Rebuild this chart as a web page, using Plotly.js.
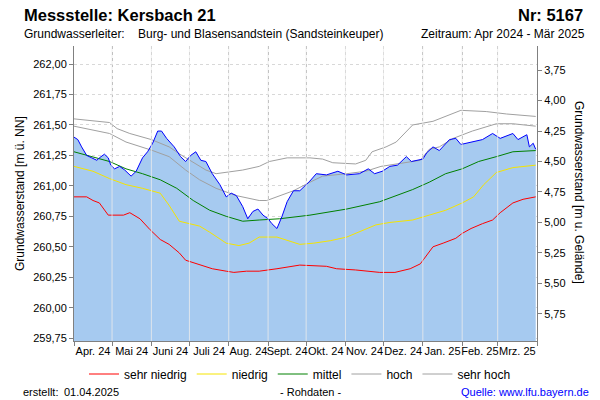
<!DOCTYPE html>
<html>
<head>
<meta charset="utf-8">
<script src="https://cdn.plot.ly/plotly-3.0.1.min.js"></script>
<style>html,body{margin:0;padding:0;background:#fff;}#chart{width:600px;height:400px;}</style>
</head>
<body>
<div id="chart"></div>
<script>
// ---------- DATA ----------
const GELAENDE = 265.70; // ground level [m ü. NN] for the right axis

const monthStarts = ['2024-04-01','2024-05-01','2024-06-01','2024-07-01','2024-08-01','2024-09-01','2024-10-01','2024-11-01','2024-12-01','2025-01-01','2025-02-01','2025-03-01','2025-04-01'];
const monthLabels = ['Apr. 24','Mai 24','Juni 24','Juli 24','Aug. 24','Sept. 24','Okt. 24','Nov. 24','Dez. 24','Jan. 25','Feb. 25','Mrz. 25'];

const measDates = ['2024-04-01','2024-04-04','2024-04-07','2024-04-11','2024-04-15','2024-04-19','2024-04-21','2024-04-25','2024-04-28','2024-04-30',
 '2024-05-03','2024-05-07','2024-05-11','2024-05-16','2024-05-20','2024-05-25','2024-05-29','2024-06-02','2024-06-06','2024-06-09',
 '2024-06-13','2024-06-19','2024-06-24','2024-06-28','2024-07-02','2024-07-06','2024-07-10','2024-07-14','2024-07-19','2024-07-25',
 '2024-07-30','2024-08-03','2024-08-07','2024-08-12','2024-08-16','2024-08-20','2024-08-24','2024-08-28','2024-09-01','2024-09-04',
 '2024-09-08','2024-09-12','2024-09-16','2024-09-21','2024-09-26','2024-09-30','2024-10-04','2024-10-09','2024-10-17','2024-10-26',
 '2024-11-02','2024-11-12','2024-11-19','2024-11-24','2024-11-30','2024-12-06','2024-12-12','2024-12-19','2024-12-23','2025-01-01',
 '2025-01-04','2025-01-09','2025-01-14','2025-01-22','2025-01-27','2025-01-31','2025-02-08','2025-02-17','2025-02-25','2025-03-03',
 '2025-03-13','2025-03-17','2025-03-24','2025-03-26','2025-03-29','2025-03-31'];
const measLevel = [261.40,261.38,261.32,261.25,261.23,261.21,261.23,261.26,261.23,261.17,
 261.14,261.16,261.13,261.08,261.12,261.23,261.28,261.35,261.45,261.45,
 261.39,261.32,261.24,261.20,261.25,261.28,261.21,261.20,261.10,261.01,
 260.91,260.94,260.92,260.83,260.73,260.79,260.81,260.76,260.73,260.69,
 260.65,260.75,260.87,260.96,260.96,261.00,261.04,261.10,261.09,261.12,
 261.09,261.10,261.14,261.10,261.12,261.16,261.17,261.24,261.20,261.22,
 261.27,261.32,261.29,261.38,261.39,261.34,261.36,261.38,261.43,261.39,
 261.43,261.38,261.42,261.32,261.35,261.30];

const sehrHochDates = ['2024-04-01','2024-04-29','2024-05-05','2024-05-15','2024-06-01','2024-06-15','2024-06-25','2024-07-06','2024-07-14','2024-07-22',
 '2024-07-30','2024-08-12','2024-08-25','2024-09-02','2024-09-16','2024-10-04','2024-10-14','2024-10-22','2024-11-09','2024-11-17',
 '2024-11-22','2024-12-03','2024-12-11','2024-12-19','2024-12-24','2025-01-09','2025-01-22','2025-01-31','2025-02-20','2025-03-08','2025-03-31'];
const sehrHochVals = [261.55,261.52,261.47,261.43,261.38,261.32,261.25,261.18,261.13,261.10,
 261.11,261.13,261.16,261.20,261.23,261.23,261.22,261.19,261.18,261.21,
 261.28,261.32,261.36,261.45,261.50,261.53,261.58,261.62,261.61,261.59,261.57];

const hochDates = ['2024-04-01','2024-04-29','2024-05-12','2024-06-02','2024-06-15','2024-06-28','2024-07-09','2024-07-22','2024-08-07','2024-08-25',
 '2024-08-31','2024-09-08','2024-09-21','2024-10-04','2024-10-14','2024-11-02','2024-11-17','2024-11-29','2024-12-19','2024-12-30',
 '2025-01-06','2025-01-14','2025-01-25','2025-02-09','2025-02-28','2025-03-13','2025-03-31'];
const hochVals = [261.49,261.43,261.36,261.29,261.24,261.13,261.05,260.98,260.92,260.88,
 260.88,260.91,260.96,261.03,261.08,261.10,261.12,261.16,261.19,261.21,
 261.30,261.32,261.39,261.45,261.51,261.51,261.49];

const mittelDates = ['2024-04-01','2024-04-16','2024-04-29','2024-05-12','2024-05-25','2024-06-08','2024-06-21','2024-07-04','2024-07-17','2024-07-30',
 '2024-08-12','2024-08-25','2024-09-10','2024-10-04','2024-11-02','2024-11-28','2024-12-24','2025-01-06','2025-01-19','2025-02-01',
 '2025-02-14','2025-02-28','2025-03-13','2025-03-31'];
const mittelVals = [261.28,261.24,261.20,261.14,261.10,261.05,260.98,260.88,260.80,260.75,
 260.71,260.72,260.73,260.76,260.81,260.87,260.97,261.03,261.10,261.14,
 261.20,261.24,261.28,261.29];

const niedrigDates = ['2024-04-01','2024-04-16','2024-04-29','2024-05-12','2024-05-25','2024-06-08','2024-06-15','2024-06-23','2024-07-09','2024-07-17',
 '2024-07-30','2024-08-09','2024-08-17','2024-08-25','2024-09-08','2024-09-21','2024-09-26','2024-10-07','2024-10-20','2024-11-02',
 '2024-11-15','2024-11-25','2024-12-06','2024-12-24','2025-01-06','2025-01-19','2025-02-01','2025-02-10','2025-02-18','2025-02-28','2025-03-13','2025-03-31'];
const niedrigVals = [261.16,261.12,261.06,261.01,260.98,260.94,260.84,260.71,260.67,260.62,
 260.53,260.51,260.53,260.58,260.58,260.54,260.52,260.53,260.55,260.58,
 260.64,260.68,260.70,260.72,260.76,260.80,260.86,260.91,261.01,261.11,261.15,261.17];

const sehrNiedrigDates = ['2024-04-01','2024-04-11','2024-04-16','2024-04-21','2024-04-28','2024-05-10','2024-05-15','2024-05-23','2024-05-31','2024-06-08',
 '2024-06-15','2024-06-23','2024-06-28','2024-07-09','2024-07-19','2024-07-30','2024-08-05','2024-08-15','2024-08-25','2024-09-08',
 '2024-09-21','2024-09-26','2024-10-17','2024-10-25','2024-11-09','2024-11-28','2024-12-10','2024-12-22','2024-12-30','2025-01-03',
 '2025-01-09','2025-01-17','2025-01-27','2025-02-01','2025-02-08','2025-02-17','2025-02-25','2025-03-03','2025-03-13','2025-03-21','2025-03-31'];
const sehrNiedrigVals = [260.91,260.91,260.88,260.86,260.76,260.76,260.78,260.73,260.64,260.56,
 260.52,260.45,260.39,260.35,260.32,260.30,260.29,260.30,260.30,260.32,
 260.34,260.35,260.34,260.32,260.31,260.29,260.29,260.32,260.36,260.42,
 260.50,260.53,260.57,260.61,260.65,260.69,260.72,260.78,260.86,260.89,260.91];

const legendNames = ['sehr niedrig','niedrig','mittel','hoch','sehr hoch'];

// ---------- LAYOUT GEOMETRY ----------
const W = 600, H = 400;
const M = {l: 74, r: 63, t: 46, b: 59};
const PW = W - M.l - M.r, PH = H - M.t - M.b;
const yRange = [259.727, 262.148];
const px = x => (x - M.l) / PW;
const py = y => (H - M.b - y) / PH;

const monthMids = monthStarts.slice(0, -1).map((d, i) => {
  const t = (Date.parse(monthStarts[i]) + Date.parse(monthStarts[i + 1])) / 2;
  return new Date(t).toISOString().slice(0, 19).replace('T', ' ');
});

const FONT = '"Liberation Sans", Arial, sans-serif';

function lineTrace(name, x, y, color) {
  return {x: x, y: y, name: name, type: 'scatter', mode: 'lines',
          line: {color: color, width: 1}, hoverinfo: 'skip'};
}

const traces = [
  {x: measDates, y: measLevel, type: 'scatter', mode: 'lines', fill: 'tozeroy',
   fillcolor: '#a6caf0', line: {color: 'rgba(0,0,0,0)', width: 0}, showlegend: false, hoverinfo: 'skip'},
  lineTrace(legendNames[4], sehrHochDates, sehrHochVals, '#a0a0a0'),
  lineTrace(legendNames[3], hochDates, hochVals, '#a0a0a0'),
  lineTrace(legendNames[2], mittelDates, mittelVals, '#008000'),
  lineTrace(legendNames[1], niedrigDates, niedrigVals, '#f5e400'),
  lineTrace(legendNames[0], sehrNiedrigDates, sehrNiedrigVals, '#ff0000'),
  {x: measDates, y: measLevel, type: 'scatter', mode: 'lines', line: {color: '#0000ff', width: 1},
   showlegend: false, hoverinfo: 'skip'},
  {x: measDates, y: measLevel.map(v => GELAENDE - v), yaxis: 'y2', type: 'scatter', mode: 'lines',
   line: {color: 'rgba(0,0,0,0)', width: 0}, opacity: 0, showlegend: false, hoverinfo: 'skip'}
];

const vShapes = monthStarts.slice(1, -1).map(d => ({
  type: 'line', xref: 'x', yref: 'paper', x0: d, x1: d, y0: 0, y1: 1, layer: 'above',
  line: {color: 'rgba(235,235,235,0.8)', width: 1}
}));

function ann(text, x, y, xanchor, size, extra) {
  return Object.assign({text: text, xref: 'paper', yref: 'paper', x: px(x), y: py(y),
    xanchor: xanchor, yanchor: 'middle', showarrow: false,
    font: {family: FONT, size: size, color: '#000'}}, extra || {});
}

const annotations = [
  ann('<b>Messstelle: Kersbach 21</b>', 22, 15, 'left', 16.5),
  ann('<b>Nr: 5167</b>', 585, 15, 'right', 16.5),
  ann('Grundwasserleiter:', 22, 34, 'left', 12),
  ann('Burg- und Blasensandstein (Sandsteinkeuper)', 136, 34, 'left', 12),
  ann('Zeitraum: Apr 2024 - Mär 2025', 587, 34, 'right', 12),
  ann('Grundwasserstand [m ü. NN]', 20, 194, 'center', 12, {textangle: -90}),
  ann('Grundwasserstand [m u. Gelände]', 579, 192, 'center', 12, {textangle: 90}),
  ann('erstellt:', 21, 392, 'left', 11),
  ann('01.04.2025', 62, 392, 'left', 11),
  ann('- Rohdaten -', 310, 392, 'center', 11),
  ann('Quelle: www.lfu.bayern.de', 591, 392, 'right', 11, {font: {family: FONT, size: 11, color: '#0000ff'}})
];

const layout = {
  width: W, height: H,
  margin: M,
  paper_bgcolor: '#ffffff', plot_bgcolor: '#ffffff',
  separators: ',.',
  font: {family: FONT, size: 11, color: '#000'},
  showlegend: true,
  legend: {orientation: 'h', x: px(300), xanchor: 'center', y: py(374), yanchor: 'middle',
           font: {family: FONT, size: 12, color: '#000'}, traceorder: 'reversed',
           bgcolor: 'rgba(0,0,0,0)', itemwidth: 30, tracegroupgap: 0},
  xaxis: {
    type: 'date', range: [monthStarts[0], monthStarts[monthStarts.length - 1]],
    tickmode: 'array', tickvals: monthMids, ticktext: monthLabels, ticks: '', tickangle: 0,
    showgrid: false, zeroline: false,
    showline: true, linecolor: '#808080', linewidth: 1,
    tickfont: {family: FONT, size: 11, color: '#000'},
    minor: {tickmode: 'array', tickvals: monthStarts, ticks: 'outside', ticklen: 4,
            tickcolor: '#808080', showgrid: true, gridcolor: '#a0a0a0', griddash: '3px,3px', gridwidth: 1},
    fixedrange: true
  },
  yaxis: {
    range: yRange, tickmode: 'linear', tick0: 259.75, dtick: 0.25, tickformat: '.2f',
    ticks: 'outside', ticklen: 4, tickcolor: '#808080',
    showgrid: true, gridcolor: '#d8d8d8', griddash: '3px,3px', gridwidth: 1,
    zeroline: false, showline: true, linecolor: '#808080', linewidth: 1,
    tickfont: {family: FONT, size: 11, color: '#000'}, fixedrange: true
  },
  yaxis2: {
    overlaying: 'y', side: 'right',
    range: [GELAENDE - yRange[0], GELAENDE - yRange[1]],
    tickmode: 'linear', tick0: 3.75, dtick: 0.25, tickformat: '.2f',
    ticks: 'outside', ticklen: 4, tickcolor: '#808080',
    showgrid: false, zeroline: false, showline: true, linecolor: '#808080', linewidth: 1,
    tickfont: {family: FONT, size: 11, color: '#000'}, fixedrange: true
  },
  shapes: vShapes,
  annotations: annotations,
  hovermode: false
};

Plotly.newPlot('chart', traces, layout, {displayModeBar: false, staticPlot: true});
</script>
</body>
</html>
